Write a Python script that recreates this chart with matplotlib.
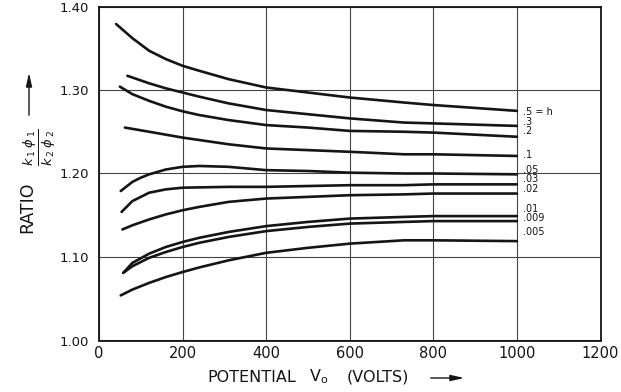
import matplotlib
matplotlib.use('Agg')
import matplotlib.pyplot as plt

# curve labels (parameter h)
h_labels = ['.5 = h', '.3', '.2', '.1', '.05', '.03', '.02', '.01', '.009', '.005']

# potential V0 (volts) and ratio k1*phi1 / k2*phi2
v_h500 = [41, 80, 120, 160, 200, 240, 310, 400, 500, 600, 730, 800, 1000]
r_h500 = [1.379, 1.362, 1.347, 1.337, 1.329, 1.323, 1.313, 1.303, 1.297, 1.291, 1.285, 1.282, 1.275]
v_h300 = [68, 120, 160, 200, 240, 310, 400, 500, 600, 730, 800, 1000]
r_h300 = [1.317, 1.308, 1.302, 1.297, 1.292, 1.284, 1.276, 1.271, 1.266, 1.261, 1.260, 1.257]
v_h200 = [50, 80, 120, 160, 200, 240, 310, 400, 500, 600, 730, 800, 1000]
r_h200 = [1.304, 1.295, 1.287, 1.280, 1.2745, 1.270, 1.264, 1.258, 1.255, 1.251, 1.250, 1.249, 1.244]
v_h100 = [62, 120, 200, 310, 400, 500, 600, 730, 800, 1000]
r_h100 = [1.255, 1.250, 1.243, 1.235, 1.230, 1.228, 1.226, 1.223, 1.223, 1.221]
v_h050 = [52, 80, 100, 120, 160, 200, 240, 310, 400, 500, 600, 730, 800, 1000]
r_h050 = [1.179, 1.190, 1.195, 1.199, 1.2048, 1.208, 1.209, 1.208, 1.204, 1.203, 1.201, 1.200, 1.200, 1.199]
v_h030 = [54, 80, 120, 160, 200, 310, 400, 500, 600, 730, 800, 1000]
r_h030 = [1.154, 1.167, 1.177, 1.181, 1.183, 1.184, 1.184, 1.185, 1.186, 1.186, 1.187, 1.187]
v_h020 = [56, 80, 120, 160, 200, 240, 310, 400, 500, 600, 730, 800, 1000]
r_h020 = [1.133, 1.138, 1.145, 1.151, 1.156, 1.160, 1.166, 1.170, 1.172, 1.174, 1.175, 1.176, 1.176]
v_h010 = [58, 80, 120, 160, 200, 240, 310, 400, 500, 600, 730, 800, 1000]
r_h010 = [1.081, 1.093, 1.104, 1.112, 1.118, 1.123, 1.130, 1.137, 1.142, 1.146, 1.148, 1.149, 1.149]
v_h009 = [58, 80, 120, 160, 200, 240, 310, 400, 500, 600, 730, 800, 1000]
r_h009 = [1.081, 1.089, 1.099, 1.106, 1.112, 1.117, 1.124, 1.131, 1.136, 1.140, 1.142, 1.143, 1.143]
v_h005 = [52, 80, 120, 160, 200, 240, 310, 400, 500, 600, 730, 800, 1000]
r_h005 = [1.054, 1.061, 1.069, 1.076, 1.082, 1.0875, 1.096, 1.105, 1.111, 1.116, 1.120, 1.120, 1.119]

curves = [(v_h500, r_h500), (v_h300, r_h300), (v_h200, r_h200), (v_h100, r_h100),
          (v_h050, r_h050), (v_h030, r_h030), (v_h020, r_h020), (v_h010, r_h010),
          (v_h009, r_h009), (v_h005, r_h005)]

# where the curve labels sit (ratio axis)
label_y = [1.274, 1.262, 1.2505, 1.222, 1.2045, 1.193, 1.1815, 1.158, 1.147, 1.130]

plt.rcParams['font.family'] = ['DejaVu Sans']

fig = plt.figure(figsize=(6.21, 3.92), dpi=100)
ax = fig.add_axes([99 / 621, 1 - 340.5 / 392, 501.5 / 621, 334 / 392])

ink = '#151515'
for v, r in curves:
    ax.plot(v, r, color=ink, lw=1.9, solid_capstyle='round', solid_joinstyle='round')

for lab, y in zip(h_labels, label_y):
    ax.text(1015, y, lab, fontsize=7, color=ink, ha='left', va='center')

ax.set_xlim(0, 1200)
ax.set_ylim(1.0, 1.4)
ax.set_xticks(range(0, 1201, 200))
ax.set_yticks([1.0, 1.1, 1.2, 1.3, 1.4])
ax.set_yticklabels(['1.00', '1.10', '1.20', '1.30', '1.40'])
ax.tick_params(axis='y', length=0, labelsize=9.5, colors=ink, pad=7)
ax.tick_params(axis='x', length=0, labelsize=10.5, colors=ink, pad=4)
ax.grid(True, color='#444444', lw=0.8)
for s in ax.spines.values():
    s.set_linewidth(1.3)
    s.set_color(ink)

# x label in three pieces, then the arrow
fig.text(207 / 621, 15 / 392, 'POTENTIAL', fontsize=11.5, color=ink, ha='left', va='center')
fig.text(309 / 621, 15 / 392, r'V$_{\mathrm{o}}$', fontsize=11.5, color=ink, ha='left', va='center')
fig.text(347 / 621, 15 / 392, '(VOLTS)', fontsize=11.5, color=ink, ha='left', va='center')
ax.annotate('', xy=(467, 14), xytext=(428, 14), xycoords='figure pixels',
            textcoords='figure pixels',
            arrowprops=dict(arrowstyle='-|>,head_length=0.8,head_width=0.18',
                            color=ink, lw=1.0))

# y label with arrow
fig.text(27 / 621, 1 - 207 / 392, 'RATIO', fontsize=12.5, color=ink,
         rotation=90, ha='center', va='center')
fig.text(40 / 621, 1 - 147 / 392, r'$\frac{k_{\,1}\;\phi_{\,1}}{k_{\,2}\;\phi_{\,2}}$',
         fontsize=13.5, color=ink, rotation=90, ha='center', va='center')
ax.annotate('', xy=(29, 392 - 70), xytext=(29, 392 - 118), xycoords='figure pixels',
            textcoords='figure pixels',
            arrowprops=dict(arrowstyle='-|>,head_length=0.8,head_width=0.18',
                            color=ink, lw=1.0))

fig.savefig('out.png', dpi=100)
